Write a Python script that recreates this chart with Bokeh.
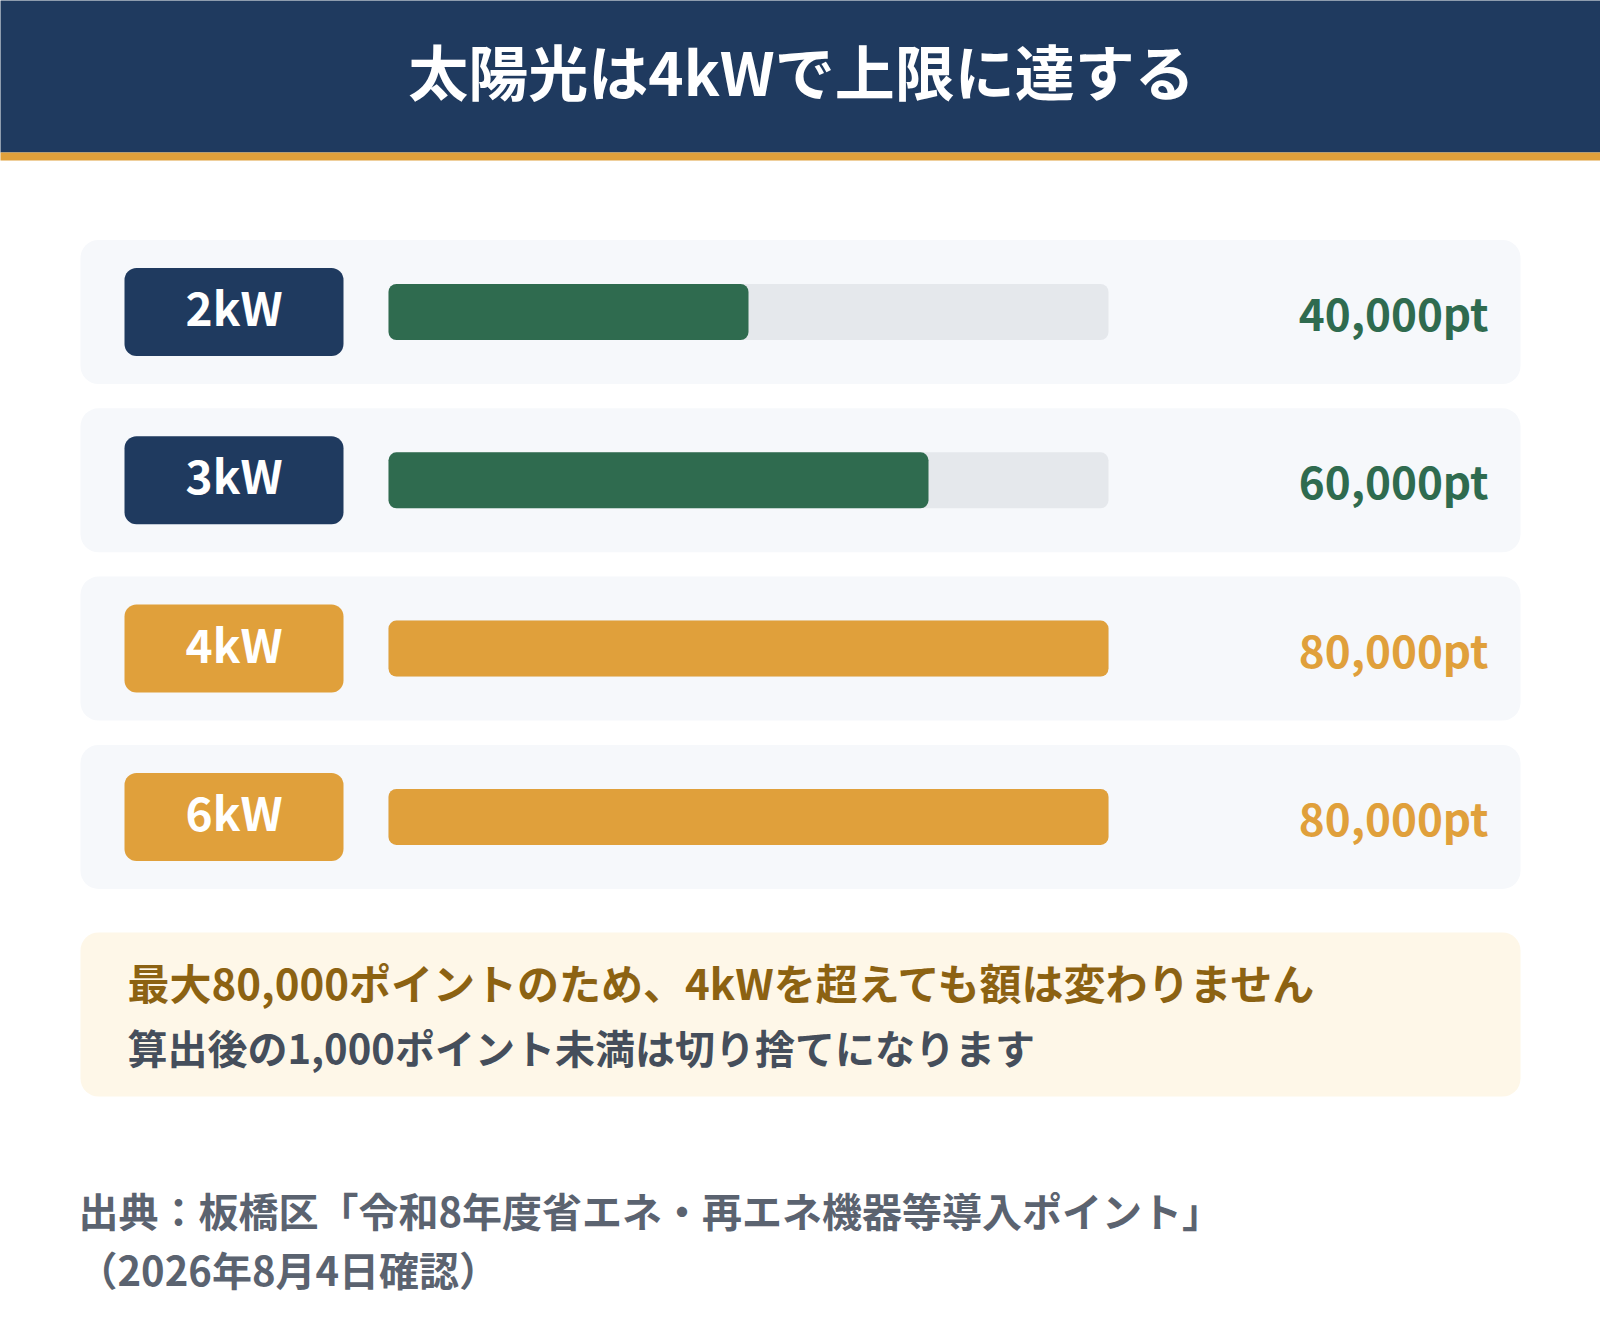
from bokeh.plotting import figure
from bokeh.models import Range1d, ColumnDataSource
from bokeh.core.properties import value
from bokeh.embed import file_html
from bokeh.resources import INLINE

# data
capacities = ["2kW", "3kW", "4kW", "6kW"]
points = [40000, 60000, 80000, 80000]
max_points = 80000
title_text = "太陽光は4kWで上限に達する"
note_lines = ["最大80,000ポイントのため、4kWを超えても額は変わりません",
              "算出後の1,000ポイント未満は切り捨てになります"]
source_lines = ["出典：板橋区「令和8年度省エネ・再エネ機器等導入ポイント」",
                "（2026年8月4日確認）"]

NAVY = "#1f3a5f"
ORANGE = "#e0a03b"
GREEN = "#2f6b4f"
FONT = value("Noto Sans CJK JP")

W, H = 1600, 1320
p = figure(width=W, height=H, x_range=Range1d(0, W), y_range=Range1d(H, 0),
           output_backend="svg", toolbar_location=None, min_border=0)
p.axis.visible = False
p.grid.visible = False
p.outline_line_color = None
p.background_fill_color = "white"
p.border_fill_color = "white"

# bar scale: 0pt at x=388, max at x=1108
px_per_pt = 720 / max_points
p.extra_x_ranges = {"pts": Range1d(-388 / px_per_pt, (W - 388) / px_per_pt)}

# header
p.quad(left=-10, right=W + 10, top=-10, bottom=152, fill_color=NAVY, line_color=None)
p.quad(left=-10, right=W + 10, top=152, bottom=160, fill_color=ORANGE, line_color=None)
p.text(x=[801], y=[69], text=[title_text], text_font=FONT, text_font_style="bold",
       text_font_size="60px", text_color="white", text_align="center", text_baseline="middle")

# rows
yc = [311.5 + i * 168.3 for i in range(len(capacities))]
at_max = [v >= max_points for v in points]
src = ColumnDataSource(dict(
    y=yc,
    cap=capacities,
    pts=points,
    zero=[0] * len(points),
    full=[max_points] * len(points),
    label=[f"{v:,}pt" for v in points],
    badge=[ORANGE if m else NAVY for m in at_max],
    fill=[ORANGE if m else GREEN for m in at_max],
    badge_y=[y - 6 for y in yc],
    label_y=[y for y in yc],
))

p.hbar(y="y", left=80, right=1520, height=144, source=src, fill_color="#f6f8fb",
       line_color=None, border_radius=18)
p.hbar(y="y", left=124, right=343, height=88, source=src, fill_color="badge",
       line_color=None, border_radius=12)
p.text(x=233.5, y="badge_y", text="cap", source=src, text_font=FONT, text_font_style="bold",
       text_font_size="46px", text_color="white", text_align="center",
       text_baseline="alphabetic")
p.hbar(y="y", left="zero", right="full", height=56, source=src, x_range_name="pts",
       fill_color="#e5e8ec", line_color=None, border_radius=8)
p.hbar(y="y", left="zero", right="pts", height=56, source=src, x_range_name="pts",
       fill_color="fill", line_color=None, border_radius=8)
p.text(x=1488, y="label_y", text="label", source=src, text_font=FONT, text_font_style="bold",
       text_font_size="44px", text_color="fill", text_align="right",
       text_baseline="alphabetic")

# note box
p.quad(left=80, right=1520, top=932, bottom=1096, fill_color="#fef7e8", line_color=None,
       border_radius=18)
p.text(x=[127], y=[981], text=[note_lines[0]], text_font=FONT, text_font_style="bold",
       text_font_size="42px", text_color="#8c6212", text_baseline="alphabetic")
p.text(x=[127], y=[1046], text=[note_lines[1]], text_font=FONT, text_font_style="bold",
       text_font_size="40px", text_color="#454e5b", text_baseline="alphabetic")

# source
p.text(x=[78], y=[1209], text=[source_lines[0]], text_font=FONT, text_font_style="bold",
       text_font_size="40px", text_color="#5b6370", text_baseline="alphabetic")
p.text(x=[77], y=[1268], text=[source_lines[1]], text_font=FONT, text_font_style="bold",
       text_font_size="40px", text_color="#5b6370", text_baseline="alphabetic")

open("out.html", "w").write(file_html(p, INLINE))
